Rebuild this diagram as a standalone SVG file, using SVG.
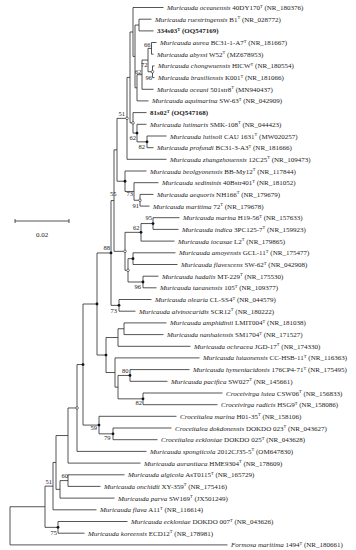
<svg xmlns="http://www.w3.org/2000/svg" width="356" height="550" viewBox="0 0 356 550">
<style>
.br{fill:none;stroke:#2a2a2a;stroke-width:0.8}
.lb{font-family:"Liberation Serif",serif;font-size:7px;fill:#222}
.sp{font-style:italic}
.bd{font-weight:bold}
.bs{font-family:"Liberation Serif",serif;font-size:6.5px;fill:#222;text-anchor:end}
.sup{font-size:4.5px}
.fd{fill:#111}
.od{fill:#fff;stroke:#222;stroke-width:0.6}
</style>
<rect width="356" height="550" fill="#fff"/>
<g id="connectors" class="br">
<path d="M139 19.2V30.9M139 19.2H151.5M139 30.9H153.5"/>
<path d="M151.5 42.5V54.2M151.5 42.5H156.5M151.5 54.2H153.5"/>
<path d="M152.5 65.9V77.6M152.5 65.9H154.5M152.5 77.6H154.5"/>
<path d="M148 48.35V71.75M148 48.35H151.5M148 71.75H152.5"/>
<path d="M142 60.05V89.3M142 60.05H148M142 89.3H153.5"/>
<path d="M137 74.7V100.9M137 74.7H142M137 100.9H148.5"/>
<path d="M135 25.05V87.8M135 25.05H139M135 87.8H137"/>
<path d="M133 7.5V56.43M133 7.5H163.5M133 56.43H135"/>
<path d="M147 136V147.7M147 136H166.5M147 147.7H153.5"/>
<path d="M137 124.3V141.85M137 124.3H146.5M137 141.85H147"/>
<path d="M133 112.6V133.08M133 112.6H146.5M133 133.08H137"/>
<path d="M130 31.97V122.84M130 31.97H133M130 122.84H133"/>
<path d="M127 77.4V159.3M127 77.4H130M127 159.3H166.5"/>
<path d="M140 194.4V206.1M140 194.4H153.5M140 206.1H149.5"/>
<path d="M134 182.7V200.25M134 182.7H158.5M134 200.25H140"/>
<path d="M125 171V191.48M125 171H146.5M125 191.48H134"/>
<path d="M117 118.35V181.24M117 118.35H127M117 181.24H125"/>
<path d="M153 217.7V229.4M153 217.7H179.5M153 229.4H178.5"/>
<path d="M141 223.55V241.1M141 223.55H153M141 241.1H174.5"/>
<path d="M133 252.8V264.5M133 252.8H175.5M133 264.5H177.5"/>
<path d="M143 276.2V287.8M143 276.2H158.5M143 287.8H156.5"/>
<path d="M128 258.65V282M128 258.65H133M128 282H143"/>
<path d="M125 232.33V270.33M125 232.33H141M125 270.33H128"/>
<path d="M114 149.8V251.33M114 149.8H117M114 251.33H125"/>
<path d="M119 299.5V311.2M119 299.5H151.5M119 311.2H135.5"/>
<path d="M111 200.57V305.35M111 200.57H114M111 305.35H119"/>
<path d="M124 322.9V334.6M124 322.9H166.5M124 334.6H163.5"/>
<path d="M118 328.75V346.3M118 328.75H124M118 346.3H190.5"/>
<path d="M130 369.6V381.3M130 369.6H189.5M130 381.3H167.5"/>
<path d="M143 393V404.7M143 393H222.5M143 404.7H217.5"/>
<path d="M118 375.45V398.85M118 375.45H130M118 398.85H143"/>
<path d="M115 357.9V387.15M115 357.9H199.5M115 387.15H118"/>
<path d="M106 337.53V372.53M106 337.53H118M106 372.53H115"/>
<path d="M97 252.96V355.03M97 252.96H111M97 355.03H106"/>
<path d="M113 428V439.7M113 428H171.5M113 439.7H157.5"/>
<path d="M99 416.3V433.85M99 416.3H176.5M99 433.85H113"/>
<path d="M83 304V425.08M83 304H97M83 425.08H99"/>
<path d="M77 364.54V451.4M77 364.54H83M77 451.4H146.5"/>
<path d="M68 407.97V463.1M68 407.97H77M68 463.1H140.5"/>
<path d="M68 474.8V486.4M68 474.8H124.5M68 486.4H100.5"/>
<path d="M60 480.6V498.1M60 480.6H68M60 498.1H114.5"/>
<path d="M56 435.54V489.35M56 435.54H68M56 489.35H60"/>
<path d="M53 462.45V509.8M53 462.45H56M53 509.8H96.5"/>
<path d="M58 521.5V533.2M58 521.5H127.5M58 533.2H84.5"/>
<path d="M45 486.13V527.35M45 486.13H53M45 527.35H58"/>
<path d="M10 506.74V544.9M10 506.74H45M10 544.9H227.5"/>
</g>
<g id="markers">
<circle class="fd" cx="137" cy="133.08" r="1.4"/>
<circle class="fd" cx="147" cy="141.85" r="1.4"/>
<circle class="fd" cx="125" cy="181.24" r="1.4"/>
<circle class="fd" cx="153" cy="223.55" r="1.4"/>
<circle class="fd" cx="141" cy="232.33" r="1.4"/>
<circle class="fd" cx="133" cy="258.65" r="1.4"/>
<circle class="fd" cx="143" cy="282" r="1.4"/>
<circle class="fd" cx="111" cy="252.96" r="1.4"/>
<circle class="fd" cx="119" cy="305.35" r="1.4"/>
<circle class="fd" cx="97" cy="304" r="1.4"/>
<circle class="fd" cx="106" cy="355.03" r="1.4"/>
<circle class="fd" cx="83" cy="364.54" r="1.4"/>
<circle class="fd" cx="130" cy="375.45" r="1.4"/>
<circle class="fd" cx="143" cy="398.85" r="1.4"/>
<circle class="fd" cx="99" cy="425.08" r="1.4"/>
<circle class="fd" cx="113" cy="433.85" r="1.4"/>
<circle class="fd" cx="58" cy="527.35" r="1.4"/>
<circle class="od" cx="127" cy="118.35" r="1.3"/>
<circle class="od" cx="133" cy="122.84" r="1.3"/>
<circle class="od" cx="152.5" cy="71.75" r="1.3"/>
<circle class="od" cx="140" cy="200.25" r="1.3"/>
<circle class="od" cx="125" cy="251.33" r="1.3"/>
<circle class="od" cx="128" cy="270.33" r="1.3"/>
<circle class="od" cx="77" cy="407.97" r="1.3"/>
</g>
<g id="bootstrap">
<text class="bs" x="150.5" y="46.5">66</text>
<text class="bs" x="147.5" y="67">72</text>
<text class="bs" x="141.5" y="73.5">62</text>
<text class="bs" x="152" y="79.5">96</text>
<text class="bs" x="125" y="115.5">51</text>
<text class="bs" x="136" y="140">62</text>
<text class="bs" x="145" y="148.5">82</text>
<text class="bs" x="116.5" y="196">55</text>
<text class="bs" x="133" y="196">73</text>
<text class="bs" x="139" y="208">91</text>
<text class="bs" x="152" y="220">95</text>
<text class="bs" x="139.5" y="230">62</text>
<text class="bs" x="110" y="249.5">88</text>
<text class="bs" x="141" y="289">96</text>
<text class="bs" x="117" y="313">73</text>
<text class="bs" x="128.5" y="373">80</text>
<text class="bs" x="142" y="405">82</text>
<text class="bs" x="97" y="430">59</text>
<text class="bs" x="110.5" y="440">79</text>
<text class="bs" x="68" y="477.5">60</text>
<text class="bs" x="52" y="484">51</text>
<text class="bs" x="57" y="535">75</text>
</g>
<g id="taxa" class="lb">
<g id="t1"><text x="167" y="10"><tspan class="sp">Muricauda oceanensis</tspan> 40DY170<tspan class="sup" dy="-2.5">T</tspan><tspan dy="2.5"> (NR_180376)</tspan></text></g>
<g id="t2"><text x="155" y="21.7"><tspan class="sp">Muricauda ruestringensis</tspan> B1<tspan class="sup" dy="-2.5">T</tspan><tspan dy="2.5"> (NR_028772)</tspan></text></g>
<g id="t3"><text class="bd" x="157" y="33.4">334s03<tspan class="sup" dy="-2.5">T</tspan><tspan dy="2.5"> (OQ547169)</tspan></text></g>
<g id="t4"><text x="160" y="45"><tspan class="sp">Muricauda aurea</tspan> BC31-1-A7<tspan class="sup" dy="-2.5">T</tspan><tspan dy="2.5"> (NR_181667)</tspan></text></g>
<g id="t5"><text x="157" y="56.7"><tspan class="sp">Muricauda abyssi</tspan> W52<tspan class="sup" dy="-2.5">T</tspan><tspan dy="2.5"> (MZ678953)</tspan></text></g>
<g id="t6"><text x="158" y="68.4"><tspan class="sp">Muricauda chongwuensis</tspan> HICW<tspan class="sup" dy="-2.5">T</tspan><tspan dy="2.5"> (NR_180554)</tspan></text></g>
<g id="t7"><text x="158" y="80.1"><tspan class="sp">Muricauda brasiliensis</tspan> K001<tspan class="sup" dy="-2.5">T</tspan><tspan dy="2.5"> (NR_181066)</tspan></text></g>
<g id="t8"><text x="157" y="91.8"><tspan class="sp">Muricauda oceani</tspan> 501str8<tspan class="sup" dy="-2.5">T</tspan><tspan dy="2.5"> (MN940437)</tspan></text></g>
<g id="t9"><text x="152" y="103.4"><tspan class="sp">Muricauda aquimarina</tspan> SW-63<tspan class="sup" dy="-2.5">T</tspan><tspan dy="2.5"> (NR_042909)</tspan></text></g>
<g id="t10"><text class="bd" x="150" y="115.1">81s02<tspan class="sup" dy="-2.5">T</tspan><tspan dy="2.5"> (OQ547168)</tspan></text></g>
<g id="t11"><text x="150" y="126.8"><tspan class="sp">Muricauda lutimaris</tspan> SMK-108<tspan class="sup" dy="-2.5">T</tspan><tspan dy="2.5"> (NR_044423)</tspan></text></g>
<g id="t12"><text x="170" y="138.5"><tspan class="sp">Muricauda lutisoli</tspan> CAU 1631<tspan class="sup" dy="-2.5">T</tspan><tspan dy="2.5"> (MW020257)</tspan></text></g>
<g id="t13"><text x="157" y="150.2"><tspan class="sp">Muricauda profundi</tspan> BC31-3-A3<tspan class="sup" dy="-2.5">T</tspan><tspan dy="2.5"> (NR_181666)</tspan></text></g>
<g id="t14"><text x="170" y="161.8"><tspan class="sp">Muricauda zhangzhouensis</tspan> 12C25<tspan class="sup" dy="-2.5">T</tspan><tspan dy="2.5"> (NR_109473)</tspan></text></g>
<g id="t15"><text x="150" y="173.5"><tspan class="sp">Muricauda beolgyonensis</tspan> BB-My12<tspan class="sup" dy="-2.5">T</tspan><tspan dy="2.5"> (NR_117844)</tspan></text></g>
<g id="t16"><text x="162" y="185.2"><tspan class="sp">Muricauda sediminis</tspan> 40Bstr401<tspan class="sup" dy="-2.5">T</tspan><tspan dy="2.5"> (NR_181052)</tspan></text></g>
<g id="t17"><text x="157" y="196.9"><tspan class="sp">Muricauda aequoris</tspan> NH166<tspan class="sup" dy="-2.5">T</tspan><tspan dy="2.5"> (NR_179679)</tspan></text></g>
<g id="t18"><text x="153" y="208.6"><tspan class="sp">Muricauda maritima</tspan> 72<tspan class="sup" dy="-2.5">T</tspan><tspan dy="2.5"> (NR_179678)</tspan></text></g>
<g id="t19"><text x="183" y="220.2"><tspan class="sp">Muricauda marina</tspan> H19-56<tspan class="sup" dy="-2.5">T</tspan><tspan dy="2.5"> (NR_157633)</tspan></text></g>
<g id="t20"><text x="182" y="231.9"><tspan class="sp">Muricauda indica</tspan> 3PC125-7<tspan class="sup" dy="-2.5">T</tspan><tspan dy="2.5"> (NR_159923)</tspan></text></g>
<g id="t21"><text x="178" y="243.6"><tspan class="sp">Muricauda iocasae</tspan> L2<tspan class="sup" dy="-2.5">T</tspan><tspan dy="2.5"> (NR_179865)</tspan></text></g>
<g id="t22"><text x="179" y="255.3"><tspan class="sp">Muricauda amoyensis</tspan> GCL-11<tspan class="sup" dy="-2.5">T</tspan><tspan dy="2.5"> (NR_175477)</tspan></text></g>
<g id="t23"><text x="181" y="267"><tspan class="sp">Muricauda flavescens</tspan> SW-62<tspan class="sup" dy="-2.5">T</tspan><tspan dy="2.5"> (NR_042908)</tspan></text></g>
<g id="t24"><text x="162" y="278.7"><tspan class="sp">Muricauda hadalis</tspan> MT-229<tspan class="sup" dy="-2.5">T</tspan><tspan dy="2.5"> (NR_175530)</tspan></text></g>
<g id="t25"><text x="160" y="290.3"><tspan class="sp">Muricauda taeanensis</tspan> 105<tspan class="sup" dy="-2.5">T</tspan><tspan dy="2.5"> (NR_109377)</tspan></text></g>
<g id="t26"><text x="155" y="302"><tspan class="sp">Muricauda olearia</tspan> CL-SS4<tspan class="sup" dy="-2.5">T</tspan><tspan dy="2.5"> (NR_044579)</tspan></text></g>
<g id="t27"><text x="139" y="313.7"><tspan class="sp">Muricauda alvinocaridis</tspan> SCR12<tspan class="sup" dy="-2.5">T</tspan><tspan dy="2.5"> (NR_180222)</tspan></text></g>
<g id="t28"><text x="170" y="325.4"><tspan class="sp">Muricauda amphidinii</tspan> LMIT004<tspan class="sup" dy="-2.5">T</tspan><tspan dy="2.5"> (NR_181038)</tspan></text></g>
<g id="t29"><text x="167" y="337.1"><tspan class="sp">Muricauda nanhaiensis</tspan> SM1704<tspan class="sup" dy="-2.5">T</tspan><tspan dy="2.5"> (NR_171527)</tspan></text></g>
<g id="t30"><text x="194" y="348.8"><tspan class="sp">Muricauda ochracea</tspan> JGD-17<tspan class="sup" dy="-2.5">T</tspan><tspan dy="2.5"> (NR_174330)</tspan></text></g>
<g id="t31"><text x="203" y="360.4"><tspan class="sp">Muricauda lutaonensis</tspan> CC-HSB-11<tspan class="sup" dy="-2.5">T</tspan><tspan dy="2.5"> (NR_116363)</tspan></text></g>
<g id="t32"><text x="193" y="372.1"><tspan class="sp">Muricauda hymeniacidonis</tspan> 176CP4-71<tspan class="sup" dy="-2.5">T</tspan><tspan dy="2.5"> (NR_175495)</tspan></text></g>
<g id="t33"><text x="171" y="383.8"><tspan class="sp">Muricauda pacifica</tspan> SW027<tspan class="sup" dy="-2.5">T</tspan><tspan dy="2.5"> (NR_145661)</tspan></text></g>
<g id="t34"><text x="226" y="395.5"><tspan class="sp">Croceivirga lutea</tspan> CSW06<tspan class="sup" dy="-2.5">T</tspan><tspan dy="2.5"> (NR_156833)</tspan></text></g>
<g id="t35"><text x="221" y="407.2"><tspan class="sp">Croceivirga radicis</tspan> HSG9<tspan class="sup" dy="-2.5">T</tspan><tspan dy="2.5"> (NR_158086)</tspan></text></g>
<g id="t36"><text x="180" y="418.8"><tspan class="sp">Croceitalea marina</tspan> H01-35<tspan class="sup" dy="-2.5">T</tspan><tspan dy="2.5"> (NR_158106)</tspan></text></g>
<g id="t37"><text x="175" y="430.5"><tspan class="sp">Croceitalea dokdonensis</tspan> DOKDO 023<tspan class="sup" dy="-2.5">T</tspan><tspan dy="2.5"> (NR_043627)</tspan></text></g>
<g id="t38"><text x="161" y="442.2"><tspan class="sp">Croceitalea eckloniae</tspan> DOKDO 025<tspan class="sup" dy="-2.5">T</tspan><tspan dy="2.5"> (NR_043628)</tspan></text></g>
<g id="t39"><text x="150" y="453.9"><tspan class="sp">Muricauda spongiicola</tspan> 2012CJ35-5<tspan class="sup" dy="-2.5">T</tspan><tspan dy="2.5"> (OM647830)</tspan></text></g>
<g id="t40"><text x="144" y="465.6"><tspan class="sp">Muricauda aurantiaca</tspan> HME9304<tspan class="sup" dy="-2.5">T</tspan><tspan dy="2.5"> (NR_178609)</tspan></text></g>
<g id="t41"><text x="128" y="477.3"><tspan class="sp">Muricauda algicola</tspan> AsT0115<tspan class="sup" dy="-2.5">T</tspan><tspan dy="2.5"> (NR_165729)</tspan></text></g>
<g id="t42"><text x="104" y="488.9"><tspan class="sp">Muricauda onchidii</tspan> XY-359<tspan class="sup" dy="-2.5">T</tspan><tspan dy="2.5"> (NR_175416)</tspan></text></g>
<g id="t43"><text x="118" y="500.6"><tspan class="sp">Muricauda parva</tspan> SW169<tspan class="sup" dy="-2.5">T</tspan><tspan dy="2.5"> (JX501249)</tspan></text></g>
<g id="t44"><text x="100" y="512.3"><tspan class="sp">Muricauda flava</tspan> A11<tspan class="sup" dy="-2.5">T</tspan><tspan dy="2.5"> (NR_116614)</tspan></text></g>
<g id="t45"><text x="131" y="524"><tspan class="sp">Muricauda eckloniae</tspan> DOKDO 007<tspan class="sup" dy="-2.5">T</tspan><tspan dy="2.5"> (NR_043626)</tspan></text></g>
<g id="t46"><text x="88" y="535.7"><tspan class="sp">Muricauda koreensis</tspan> ECD12<tspan class="sup" dy="-2.5">T</tspan><tspan dy="2.5"> (NR_178981)</tspan></text></g>
<g id="t47"><text x="231" y="547.4"><tspan class="sp">Formosa maritima</tspan> 1494<tspan class="sup" dy="-2.5">T</tspan><tspan dy="2.5"> (NR_180661)</tspan></text></g>
</g>
<g id="scale">
<path class="br" d="M15 221H69M15 219V223M69 219V223"/>
<text class="lb" x="42" y="237" text-anchor="middle">0.02</text>
</g>
</svg>
